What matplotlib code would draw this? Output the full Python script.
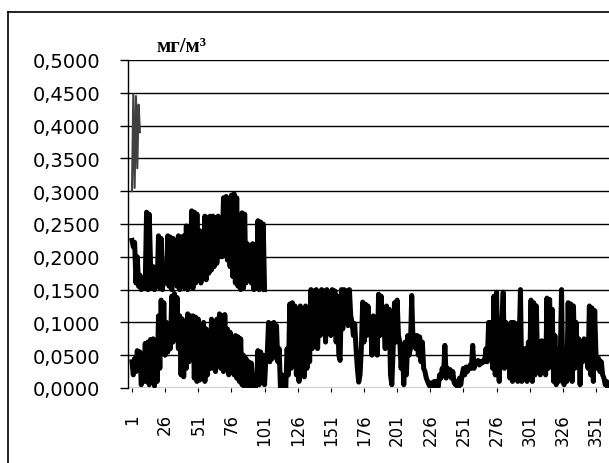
import numpy as np
import matplotlib
matplotlib.use("Agg")
import matplotlib.pyplot as plt
from matplotlib.lines import Line2D
from matplotlib.ticker import FuncFormatter

# short high series at the start (thin)
series_a = [0.300, 0.448, 0.305, 0.445, 0.335, 0.432, 0.390]

# middle series, points 1..101
series_b = [
    0.225, 0.215, 0.222, 0.160, 0.200, 0.155, 0.172, 0.150, 0.168, 0.152,
    0.160, 0.268, 0.150, 0.265, 0.190, 0.152, 0.185, 0.150, 0.170, 0.155,
    0.232, 0.152, 0.228, 0.150, 0.180, 0.160, 0.178, 0.232, 0.155, 0.230,
    0.150, 0.228, 0.180, 0.210, 0.155, 0.232, 0.150, 0.230, 0.160, 0.232,
    0.152, 0.247, 0.150, 0.245, 0.155, 0.270, 0.152, 0.268, 0.160, 0.265,
    0.165, 0.240, 0.160, 0.238, 0.168, 0.262, 0.165, 0.260, 0.175, 0.262,
    0.180, 0.262, 0.185, 0.260, 0.190, 0.262, 0.200, 0.245, 0.200, 0.290,
    0.205, 0.292, 0.195, 0.288, 0.185, 0.294, 0.170, 0.296, 0.160, 0.290,
    0.155, 0.200, 0.150, 0.267, 0.152, 0.265, 0.160, 0.220, 0.165, 0.212,
    0.160, 0.220, 0.150, 0.218, 0.152, 0.255, 0.150, 0.253, 0.155, 0.250,
    0.150,
]

# lower series, points 1..361
series_c = [
    0.040, 0.020, 0.045, 0.025, 0.057, 0.030, 0.055, 0.005, 0.030, 0.010,
    0.068, 0.010, 0.070, 0.005, 0.074, 0.030, 0.075, 0.003, 0.060, 0.010,
    0.110, 0.030, 0.134, 0.060, 0.130, 0.050, 0.100, 0.055, 0.090, 0.060,
    0.140, 0.070, 0.144, 0.080, 0.138, 0.060, 0.110, 0.020, 0.105, 0.017,
    0.090, 0.030, 0.113, 0.040, 0.110, 0.050, 0.110, 0.015, 0.108, 0.010,
    0.105, 0.012, 0.095, 0.030, 0.100, 0.010, 0.090, 0.020, 0.080, 0.030,
    0.105, 0.030, 0.100, 0.025, 0.105, 0.040, 0.113, 0.030, 0.110, 0.025,
    0.112, 0.040, 0.090, 0.020, 0.085, 0.030, 0.070, 0.020, 0.080, 0.015,
    0.078, 0.010, 0.075, 0.005, 0.050, 0.000, 0.045, 0.002, 0.040, 0.000,
    0.038, 0.005, 0.015, 0.000, 0.010, 0.057, 0.005, 0.055, 0.010, 0.050,
    0.005, 0.045, 0.050, 0.100, 0.040, 0.098, 0.045, 0.100, 0.050, 0.095,
    0.040, 0.060, 0.000, 0.020, 0.000, 0.010, 0.000, 0.060, 0.020, 0.128,
    0.030, 0.130, 0.040, 0.125, 0.020, 0.090, 0.010, 0.125, 0.030, 0.120,
    0.017, 0.125, 0.030, 0.110, 0.040, 0.150, 0.060, 0.148, 0.080, 0.150,
    0.060, 0.120, 0.080, 0.150, 0.090, 0.148, 0.070, 0.150, 0.095, 0.145,
    0.080, 0.150, 0.090, 0.148, 0.070, 0.140, 0.050, 0.042, 0.150, 0.090,
    0.150, 0.100, 0.148, 0.095, 0.150, 0.110, 0.100, 0.080, 0.098, 0.060,
    0.030, 0.009, 0.020, 0.060, 0.131, 0.070, 0.128, 0.080, 0.125, 0.090,
    0.100, 0.050, 0.110, 0.060, 0.090, 0.050, 0.143, 0.080, 0.140, 0.090,
    0.100, 0.060, 0.125, 0.070, 0.120, 0.020, 0.005, 0.060, 0.130, 0.070,
    0.134, 0.080, 0.070, 0.030, 0.060, 0.005, 0.070, 0.020, 0.080, 0.050,
    0.060, 0.141, 0.070, 0.080, 0.060, 0.080, 0.050, 0.078, 0.040, 0.070,
    0.030, 0.025, 0.015, 0.010, 0.005, 0.002, 0.008, 0.000, 0.010, 0.003,
    0.010, 0.002, 0.020, 0.015, 0.030, 0.020, 0.065, 0.015, 0.030, 0.020,
    0.028, 0.015, 0.025, 0.008, 0.005, 0.010, 0.000, 0.015, 0.005, 0.020,
    0.030, 0.020, 0.032, 0.025, 0.030, 0.035, 0.030, 0.065, 0.030, 0.040,
    0.038, 0.042, 0.035, 0.040, 0.038, 0.042, 0.040, 0.060, 0.040, 0.100,
    0.050, 0.100, 0.030, 0.140, 0.020, 0.146, 0.040, 0.010, 0.060, 0.100,
    0.146, 0.030, 0.100, 0.040, 0.095, 0.015, 0.100, 0.010, 0.100, 0.030,
    0.098, 0.010, 0.060, 0.150, 0.010, 0.060, 0.030, 0.060, 0.010, 0.070,
    0.040, 0.134, 0.010, 0.130, 0.020, 0.125, 0.030, 0.070, 0.020, 0.072,
    0.050, 0.070, 0.020, 0.137, 0.030, 0.135, 0.040, 0.120, 0.010, 0.080,
    0.005, 0.060, 0.010, 0.040, 0.150, 0.010, 0.005, 0.020, 0.010, 0.130,
    0.020, 0.128, 0.010, 0.125, 0.030, 0.100, 0.040, 0.075, 0.005, 0.070,
    0.040, 0.075, 0.050, 0.070, 0.030, 0.125, 0.020, 0.122, 0.010, 0.118,
    0.050, 0.030, 0.045, 0.025, 0.040, 0.020, 0.015, 0.005, 0.010, 0.000,
    0.002,
]

x_ticks = list(range(1, 352, 25))
y_ticks = [i * 0.05 for i in range(11)]

fig = plt.figure(figsize=(6.09, 4.64), dpi=100)
ax = fig.add_axes([128 / 609, 75 / 464, 481 / 609, 328 / 464])

for v in y_ticks:
    ax.axhline(v, color="black", lw=1.0, zorder=1)

ax.plot(range(1, len(series_c) + 1), series_c, color="black", lw=3.6,
        solid_joinstyle="round", zorder=3)
ax.plot(range(1, len(series_b) + 1), series_b, color="black", lw=3.6,
        solid_joinstyle="round", zorder=3)
ax.plot(range(1, len(series_a) + 1), series_a, color="0.25", lw=1.5, zorder=3)

ax.set_xlim(-2.0, 360.8)
ax.set_ylim(0, 0.5)
ax.set_yticks(y_ticks)
ax.yaxis.set_major_formatter(FuncFormatter(lambda v, p: ("%.4f" % v).replace(".", ",")))
ax.set_xticks(x_ticks)
ax.set_xticklabels([str(t) for t in x_ticks], rotation=90)

for s in ["top", "right", "bottom"]:
    ax.spines[s].set_visible(False)
ax.spines["left"].set_linewidth(1.0)

ax.tick_params(axis="y", length=6, width=1, pad=14, labelsize=14)
ax.tick_params(axis="x", length=3, width=0.8, pad=15, labelsize=12)

for lab in ax.get_xticklabels() + ax.get_yticklabels():
    lab.set_family("DejaVu Sans")

fig.text(181 / 609, 1 - 47 / 464, "мг/м³", ha="center", va="center",
         fontsize=15, fontweight="bold", family="Liberation Serif")

# chart frame
fig.add_artist(Line2D([8 / 609, 8 / 609], [0, 1 - 13 / 464], color="black", lw=1.2,
                      transform=fig.transFigure))
fig.add_artist(Line2D([8 / 609, 1], [1 - 13 / 464, 1 - 13 / 464], color="black", lw=1.2,
                      transform=fig.transFigure))

fig.savefig("out.png", dpi=100)
